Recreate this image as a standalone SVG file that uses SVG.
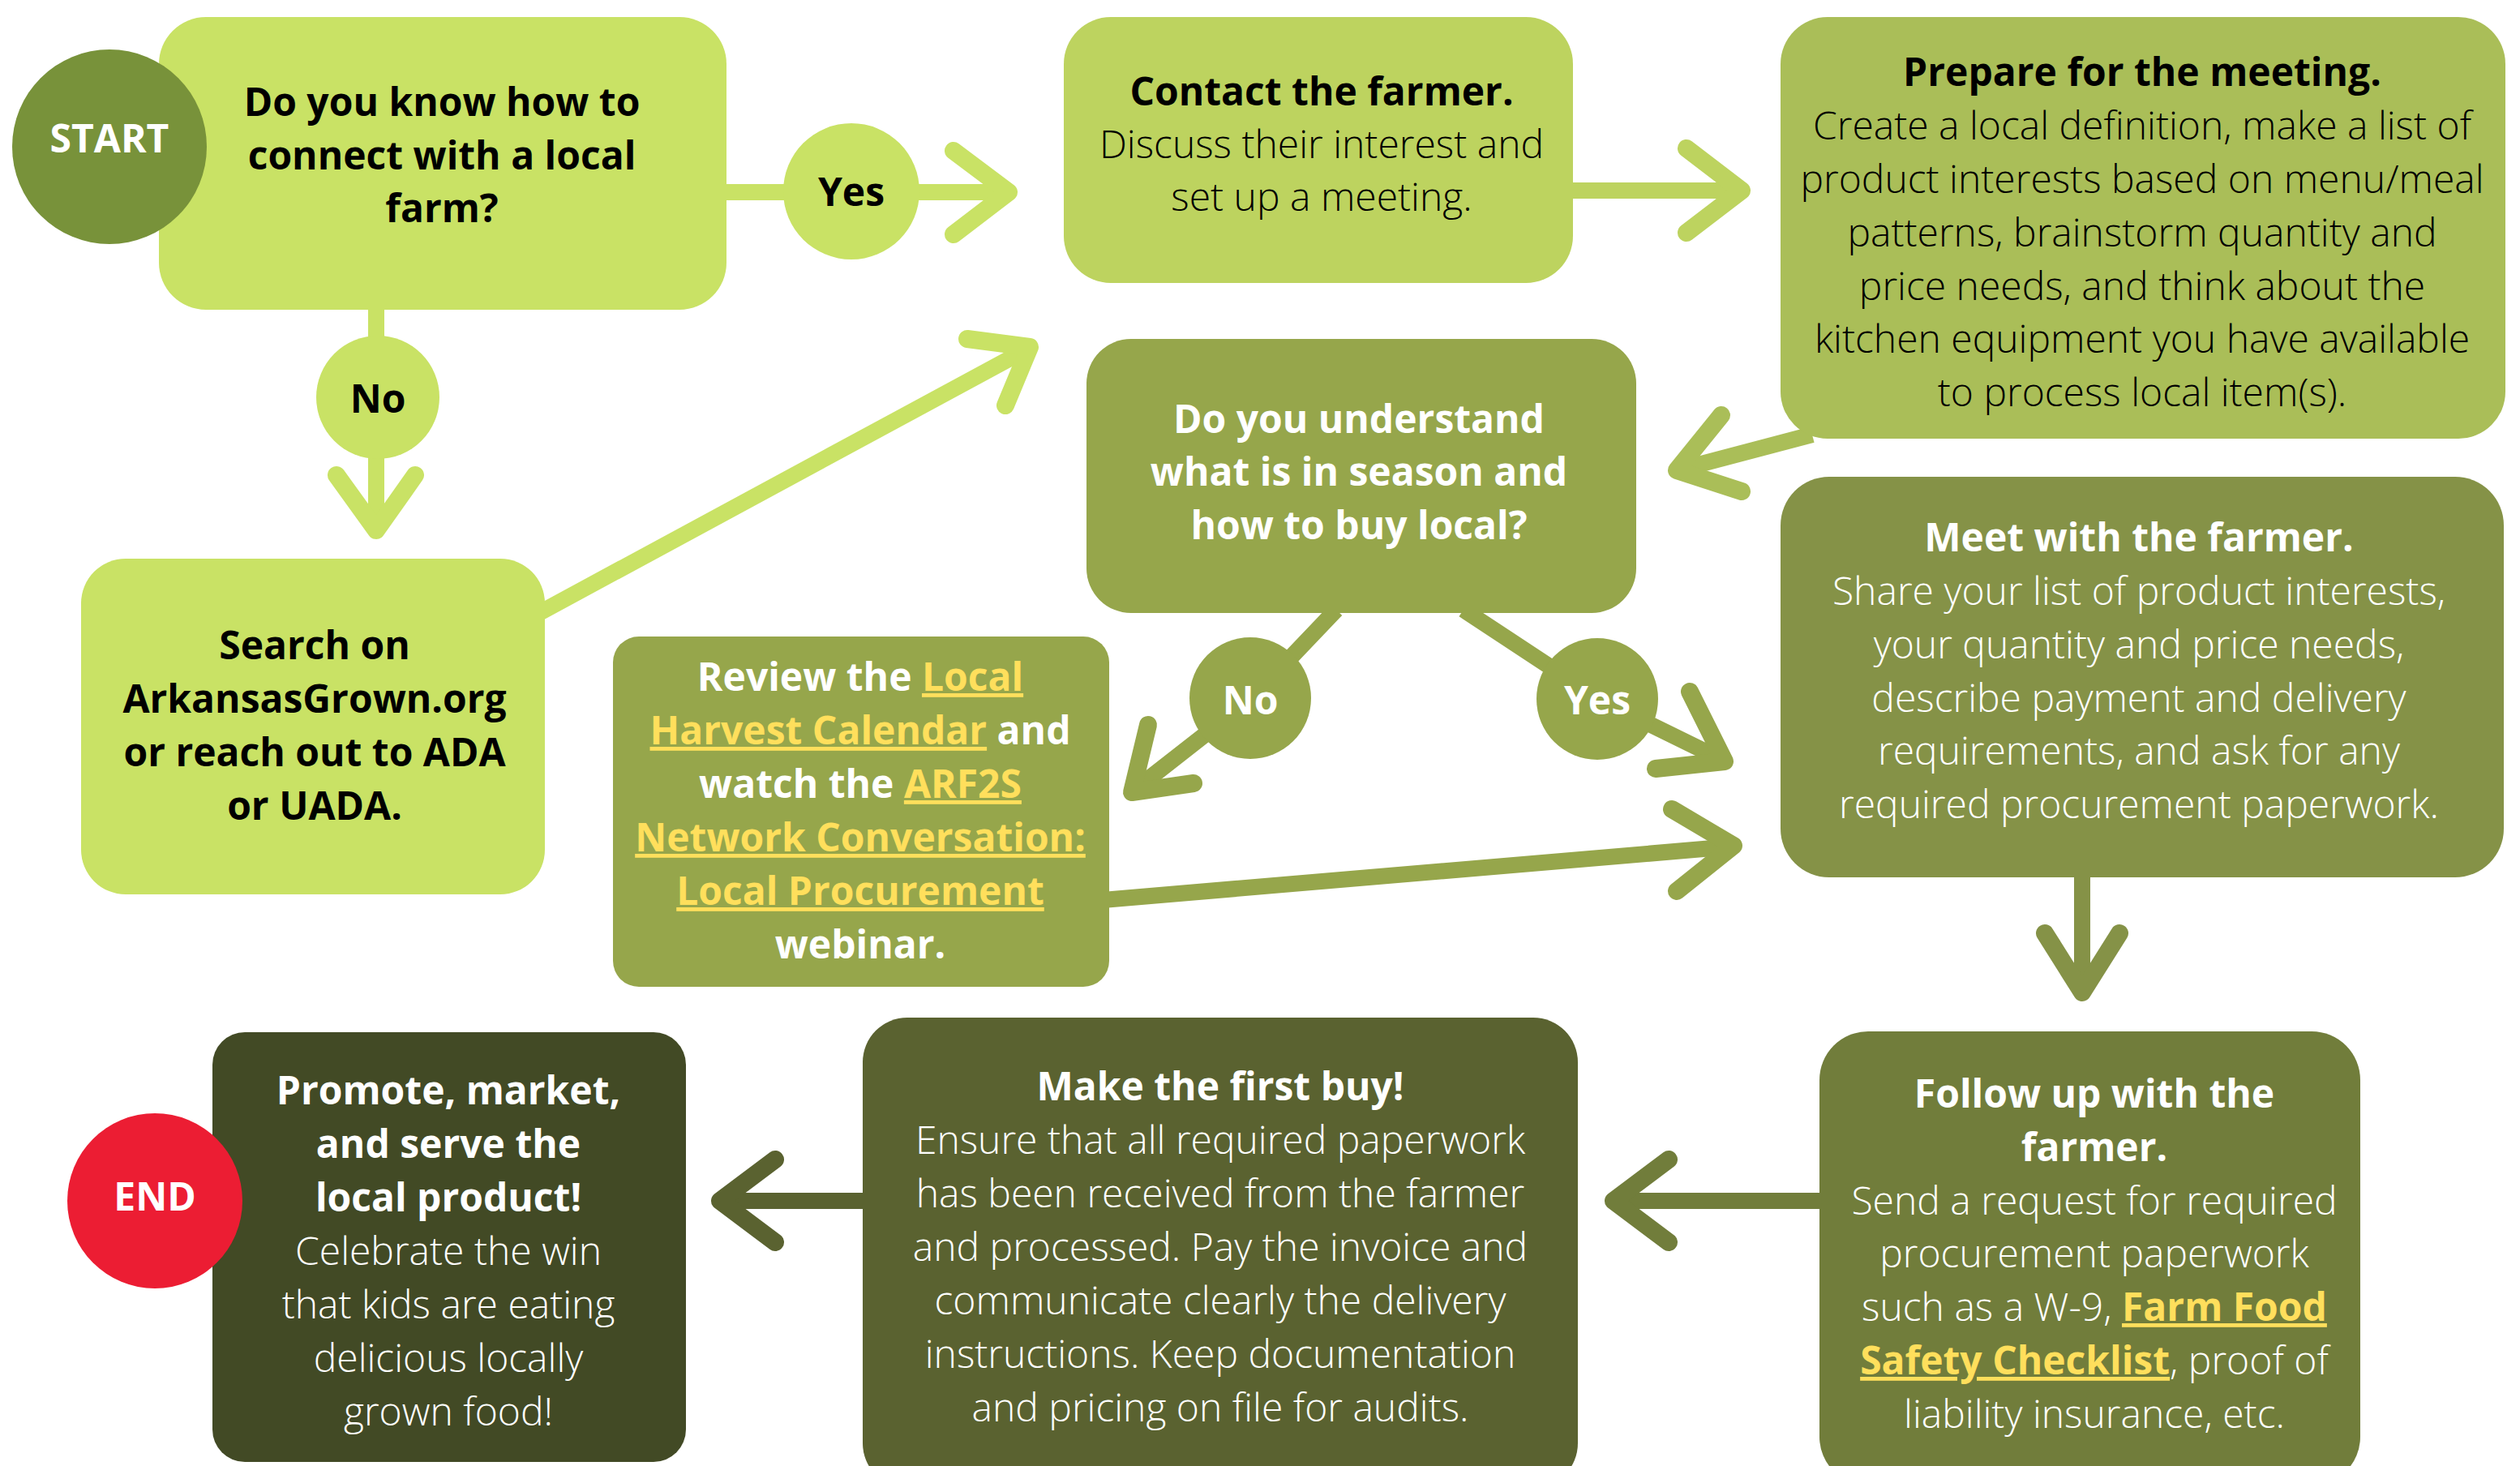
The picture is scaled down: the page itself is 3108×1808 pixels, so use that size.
<svg xmlns="http://www.w3.org/2000/svg" width="3108" height="1808" viewBox="0 0 3108 1808">
<style>
text{font-family:"Open Sans","Noto Sans","DejaVu Sans",sans-serif;text-anchor:middle;}
.b{font-weight:700;font-size:48px;}
.l{font-weight:300;font-size:48px;}
.k{fill:#000;}
.w{fill:#fff;}
.lnk{fill:#FFDF5C;text-decoration:underline;font-weight:700;}
.ln{fill:none;stroke-width:20;}
.ch{fill:none;stroke-width:22;stroke-linecap:round;stroke-linejoin:round;}
</style>
<rect width="3108" height="1808" fill="#fff"/>

<g id="connectors">
  <!-- box1 -> yes -> contact -->
  <g stroke="#C9E265">
    <line class="ln" x1="890" y1="237" x2="1245" y2="237"/>
    <polyline class="ch" points="1176,186 1244,237 1176,289"/>
    <line class="ln" x1="464" y1="375" x2="464" y2="650"/>
    <polyline class="ch" points="415,586 464,654 512,586"/>
    <line class="ln" x1="665" y1="756" x2="1268" y2="430"/>
    <polyline class="ch" points="1193,418 1270,428 1240,500"/>
  </g>
  <g stroke="#BDD35F">
    <line class="ln" x1="1935" y1="235" x2="2146" y2="235"/>
    <polyline class="ch" points="2080,183 2148,235 2080,287"/>
  </g>
  <g stroke="#AABE58">
    <line class="ln" x1="2235" y1="536" x2="2072" y2="579"/>
    <polyline class="ch" points="2123,512 2068,580 2148,606"/>
  </g>
  <g stroke="#96A64B">
    <polyline class="ln" points="1648,752 1545,860 1398,975"/>
    <polyline class="ch" points="1416,894 1396,977 1472,966"/>
    <polyline class="ln" points="1805,752 1975,864 2124,937"/>
    <polyline class="ch" points="2084,853 2127,939 2042,948"/>
    <line class="ln" x1="1360" y1="1110" x2="2136" y2="1044"/>
    <polyline class="ch" points="2062,998 2138,1043 2068,1099"/>
  </g>
  <g stroke="#859247">
    <line class="ln" x1="2568" y1="1080" x2="2568" y2="1222"/>
    <polyline class="ch" points="2522,1151 2568,1224 2614,1151"/>
  </g>
  <g stroke="#717D3B">
    <line class="ln" x1="2250" y1="1481" x2="1992" y2="1481"/>
    <polyline class="ch" points="2058,1430 1990,1481 2058,1532"/>
  </g>
  <g stroke="#5A6230">
    <line class="ln" x1="1070" y1="1481" x2="890" y2="1481"/>
    <polyline class="ch" points="956,1430 888,1481 956,1532"/>
  </g>
</g>

<g id="q1">
  <rect x="196" y="21" width="700" height="361" rx="58" fill="#C9E265"/>
  <text class="b k" x="545" y="143">Do you know how to</text>
  <text class="b k" x="545" y="209">connect with a local</text>
  <text class="b k" x="545" y="274">farm?</text>
</g>
<g id="start">
  <circle cx="135" cy="181" r="120" fill="#78923A"/>
  <text class="b w" x="135" y="188">START</text>
</g>
<g id="yes1">
  <circle cx="1050" cy="236" r="84" fill="#C9E265"/>
  <text class="b k" x="1050" y="254">Yes</text>
</g>
<g id="no1">
  <circle cx="466" cy="490" r="76" fill="#C9E265"/>
  <text class="b k" x="466" y="509">No</text>
</g>

<g id="search">
  <rect x="100" y="689" width="572" height="414" rx="55" fill="#C9E265"/>
  <text class="b k" x="388" y="813">Search on</text>
  <text class="b k" x="388" y="879">ArkansasGrown.org</text>
  <text class="b k" x="388" y="945">or reach out to ADA</text>
  <text class="b k" x="388" y="1011">or UADA.</text>
</g>

<g id="contact">
  <rect x="1312" y="21" width="628" height="328" rx="58" fill="#BDD35F"/>
  <text class="b k" x="1630" y="130">Contact the farmer.</text>
  <text class="l k" x="1630" y="195">Discuss their interest and</text>
  <text class="l k" x="1630" y="260">set up a meeting.</text>
</g>

<g id="prepare">
  <rect x="2196" y="21" width="894" height="520" rx="58" fill="#AABE58"/>
  <text class="b k" x="2642" y="106">Prepare for the meeting.</text>
  <text class="l k" x="2642" y="172">Create a local definition, make a list of</text>
  <text class="l k" x="2642" y="238">product interests based on menu/meal</text>
  <text class="l k" x="2642" y="304">patterns, brainstorm quantity and</text>
  <text class="l k" x="2642" y="370">price needs, and think about the</text>
  <text class="l k" x="2642" y="435">kitchen equipment you have available</text>
  <text class="l k" x="2642" y="501">to process local item(s).</text>
</g>

<g id="understand">
  <rect x="1340" y="418" width="678" height="338" rx="55" fill="#96A64B"/>
  <text class="b w" x="1676" y="534">Do you understand</text>
  <text class="b w" x="1676" y="599">what is in season and</text>
  <text class="b w" x="1676" y="665">how to buy local?</text>
</g>
<g id="no2">
  <circle cx="1542" cy="861" r="75" fill="#96A64B"/>
  <text class="b w" x="1542" y="881">No</text>
</g>
<g id="yes2">
  <circle cx="1970" cy="862" r="75" fill="#96A64B"/>
  <text class="b w" x="1970" y="881">Yes</text>
</g>

<g id="review">
  <rect x="756" y="785" width="612" height="432" rx="32" fill="#96A64B"/>
  <text class="b w" x="1061" y="852">Review the <tspan class="lnk">Local</tspan></text>
  <text class="b w" x="1061" y="918"><tspan class="lnk">Harvest Calendar</tspan> and</text>
  <text class="b w" x="1061" y="984">watch the <tspan class="lnk">ARF2S</tspan></text>
  <text class="b lnk" x="1061" y="1050">Network Conversation:</text>
  <text class="b lnk" x="1061" y="1116">Local Procurement</text>
  <text class="b w" x="1061" y="1182">webinar.</text>
</g>

<g id="meet">
  <rect x="2196" y="588" width="892" height="494" rx="60" fill="#859247"/>
  <text class="b w" x="2638" y="680">Meet with the farmer.</text>
  <text class="l w" x="2638" y="746">Share your list of product interests,</text>
  <text class="l w" x="2638" y="812">your quantity and price needs,</text>
  <text class="l w" x="2638" y="878">describe payment and delivery</text>
  <text class="l w" x="2638" y="943">requirements, and ask for any</text>
  <text class="l w" x="2638" y="1009">required procurement paperwork.</text>
</g>

<g id="follow">
  <rect x="2244" y="1272" width="667" height="560" rx="60" fill="#717D3B"/>
  <text class="b w" x="2583" y="1366">Follow up with the</text>
  <text class="b w" x="2583" y="1432">farmer.</text>
  <text class="l w" x="2583" y="1498">Send a request for required</text>
  <text class="l w" x="2583" y="1563">procurement paperwork</text>
  <text class="l w" x="2583" y="1629">such as a W-9, <tspan class="lnk">Farm Food</tspan></text>
  <text class="l w" x="2583" y="1695"><tspan class="lnk">Safety Checklist</tspan>, proof of</text>
  <text class="l w" x="2583" y="1761">liability insurance, etc.</text>
</g>

<g id="make">
  <rect x="1064" y="1255" width="882" height="580" rx="55" fill="#5A6230"/>
  <text class="b w" x="1505" y="1357">Make the first buy!</text>
  <text class="l w" x="1505" y="1423">Ensure that all required paperwork</text>
  <text class="l w" x="1505" y="1489">has been received from the farmer</text>
  <text class="l w" x="1505" y="1555">and processed. Pay the invoice and</text>
  <text class="l w" x="1505" y="1621">communicate clearly the delivery</text>
  <text class="l w" x="1505" y="1687">instructions. Keep documentation</text>
  <text class="l w" x="1505" y="1753">and pricing on file for audits.</text>
</g>

<g id="promote">
  <rect x="262" y="1273" width="584" height="530" rx="40" fill="#424A25"/>
  <text class="b w" x="553" y="1362">Promote, market,</text>
  <text class="b w" x="553" y="1428">and serve the</text>
  <text class="b w" x="553" y="1494">local product!</text>
  <text class="l w" x="553" y="1560">Celebrate the win</text>
  <text class="l w" x="553" y="1626">that kids are eating</text>
  <text class="l w" x="553" y="1692">delicious locally</text>
  <text class="l w" x="553" y="1758">grown food!</text>
</g>

<g id="end">
  <circle cx="191" cy="1481" r="108" fill="#EC1D33"/>
  <text class="b w" x="191" y="1493">END</text>
</g>
</svg>
